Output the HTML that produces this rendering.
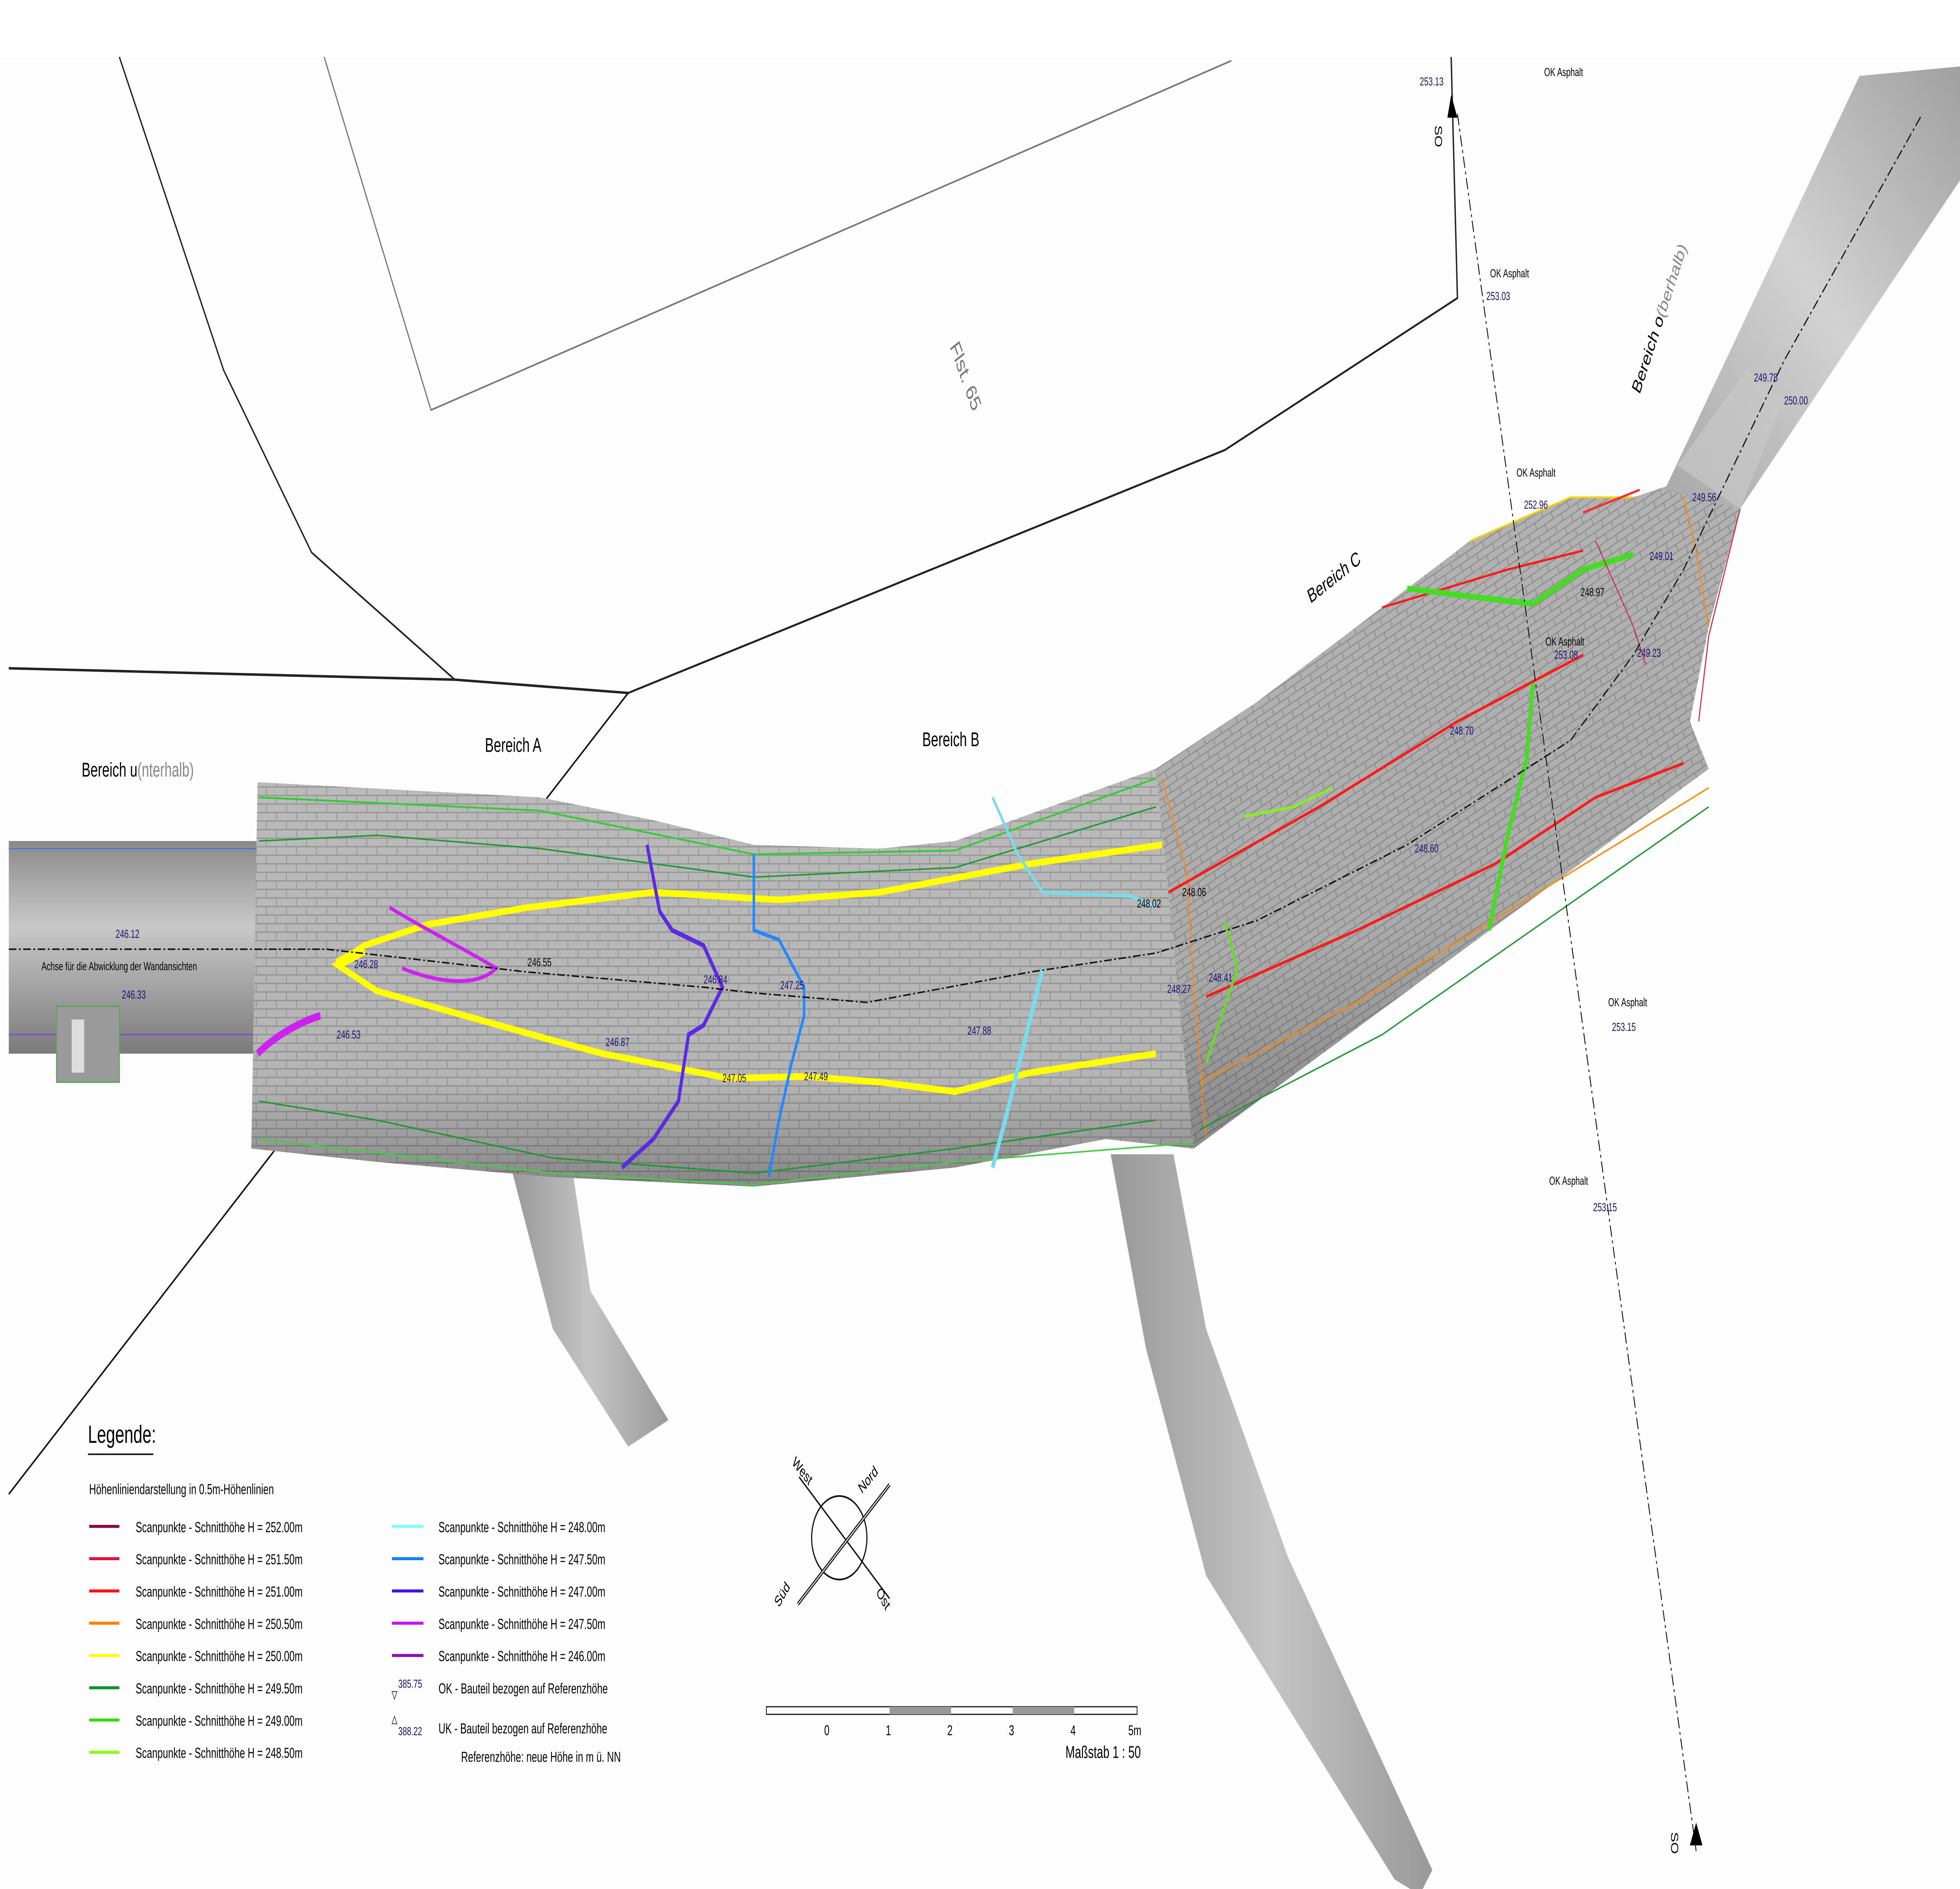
<!DOCTYPE html>
<html><head><meta charset="utf-8"><style>
html,body{margin:0;padding:0;background:#fff;overflow:hidden;width:100vw;height:100vh}
svg{display:block;width:100vw;height:100vh;position:absolute;left:0;top:0}
text{font-family:"Liberation Sans",sans-serif}
.n{fill:#1f0f70;font-size:6.2px}
.k{fill:#000;font-size:6.2px}
.lg{fill:#000;font-size:7.6px}
</style></head><body>
<svg viewBox="0 0 1560 995" preserveAspectRatio="none" xmlns="http://www.w3.org/2000/svg">
<defs>
<pattern id="br" width="16" height="9" patternUnits="userSpaceOnUse">
<rect width="16" height="9" fill="#bababa"/>
<path d="M0 0.5H16M0 5H16M4 0.5V5M12 5V9" stroke="#979797" stroke-width="0.7" fill="none"/>
</pattern>
<pattern id="br2" width="14" height="8" patternUnits="userSpaceOnUse" patternTransform="rotate(-24)">
<rect width="14" height="8" fill="#b3b3b3"/>
<path d="M0 0.5H14M0 4.5H14M3 0.5V4.5M10 4.5V8" stroke="#909090" stroke-width="0.7" fill="none"/>
</pattern>
<linearGradient id="pipe" x1="0" y1="0" x2="0" y2="1">
<stop offset="0" stop-color="#8a8a8a"/><stop offset="0.4" stop-color="#c8c8c8"/><stop offset="1" stop-color="#7a7a7a"/>
</linearGradient>
<linearGradient id="shade" x1="0" y1="0" x2="0" y2="1">
<stop offset="0" stop-color="#000" stop-opacity="0"/><stop offset="0.75" stop-color="#000" stop-opacity="0.03"/><stop offset="1" stop-color="#000" stop-opacity="0.28"/>
</linearGradient>
<linearGradient id="shadeC" x1="0.3" y1="0" x2="0.5" y2="1">
<stop offset="0" stop-color="#000" stop-opacity="0"/><stop offset="0.65" stop-color="#000" stop-opacity="0.04"/><stop offset="1" stop-color="#000" stop-opacity="0.3"/>
</linearGradient>
<linearGradient id="strip" x1="0" y1="1" x2="1" y2="0">
<stop offset="0" stop-color="#a8a8a8"/><stop offset="0.5" stop-color="#d2d2d2"/><stop offset="1" stop-color="#a0a0a0"/>
</linearGradient>
<linearGradient id="leg" x1="0" y1="0" x2="1" y2="0">
<stop offset="0" stop-color="#999"/><stop offset="0.5" stop-color="#c4c4c4"/><stop offset="1" stop-color="#999"/>
</linearGradient>
</defs>
<rect width="1560" height="995" fill="#fdfdfd"/>
<rect x="0" y="0" width="1560" height="30" fill="#fff"/>

<polyline points="95,30 178,195 248,291 362,358" fill="none" stroke="#222" stroke-width="1"/>
<polyline points="7,352 362,358 500,365" fill="none" stroke="#222" stroke-width="1.3"/>
<polyline points="258,30 343,216 980,32" fill="none" stroke="#777" stroke-width="0.9"/>
<polyline points="1155,30 1160,157 975,237 500,365" fill="none" stroke="#222" stroke-width="1.1"/>
<line x1="500" y1="365" x2="7" y2="787" stroke="#111" stroke-width="1"/>
<text x="765" y="200" font-size="12" fill="#777" transform="rotate(62 765 200)" text-anchor="middle">Flst. 65</text>

<rect x="7" y="443" width="200" height="112" fill="url(#pipe)"/>
<line x1="7" y1="447" x2="205" y2="447" stroke="#3a7adf" stroke-width="0.6"/>
<line x1="7" y1="545" x2="205" y2="545" stroke="#7a40e0" stroke-width="0.6"/>
<rect x="45" y="530" width="50" height="40" fill="#9a9a9a" stroke="#5a5" stroke-width="0.8"/>
<rect x="57" y="537" width="10" height="28" fill="#ddd"/>

<polygon points="408,618 456,618 470,680 532,748 500,762 440,700" fill="url(#leg)"/>
<polygon points="884,608 934,608 960,700 1025,820 1140,985 1130,998 1110,990 960,830 912,710" fill="url(#leg)"/>

<path d="M205,412 L430,420 L520,432 L600,445 L700,447 L760,443 L920,405 L950,605 L880,600 L760,615 L600,625 L440,620 L300,612 L200,605 Z" fill="url(#br)"/>
<path d="M205,412 L430,420 L520,432 L600,445 L700,447 L760,443 L920,405 L950,605 L880,600 L760,615 L600,625 L440,620 L300,612 L200,605 Z" fill="url(#shade)"/>
<path d="M920,405 L1000,370 L1100,320 L1170,285 L1250,262 L1300,262 L1345,252 L1385,268 L1360,330 L1345,380 L1360,405 L950,605 Z" fill="url(#br2)"/>
<path d="M920,405 L1000,370 L1100,320 L1170,285 L1250,262 L1300,262 L1345,252 L1385,268 L1360,330 L1345,380 L1360,405 L950,605 Z" fill="url(#shadeC)"/>
<polygon points="1325,258 1480,40 1560,35 1560,95 1385,268" fill="url(#strip)"/>
<polygon points="1335,245 1390,195 1420,210 1385,268" fill="#c8c8c8" opacity="0.7"/>

<path d="M206,420 L430,427 L600,450 L760,448 L920,410" fill="none" stroke="#33cc33" stroke-width="1"/>
<path d="M206,443 L300,440 L430,447 L600,462 L760,457 L920,425" fill="none" stroke="#1a9a30" stroke-width="0.8"/>
<path d="M206,580 L300,590 L440,610 L600,618 L760,605 L920,590" fill="none" stroke="#1a9a30" stroke-width="0.8"/>
<path d="M206,600 L440,618 L600,624 L760,612 L950,602" fill="none" stroke="#44cc44" stroke-width="0.8"/>
<path d="M920,555 L820,565 L760,575 L700,570 L640,567 L580,568 L480,555 L440,548 L300,522 L268,508 L290,498 L340,487 L420,478 L520,470 L620,474 L700,470 L820,455 L925,445" fill="none" stroke="#ffff00" stroke-width="3.5"/>
<path d="M268,508 L290,500" stroke="#ffff00" stroke-width="6"/>
<path d="M310,478 C340,490 370,500 395,510 C380,520 350,518 320,510" fill="none" stroke="#cc22ee" stroke-width="2"/>
<path d="M205,555 C220,545 240,538 255,535" fill="none" stroke="#cc22ee" stroke-width="4"/>
<path d="M515,445 L525,480 L535,490 L560,498 L575,520 L560,540 L548,545 L540,580 L520,600 L495,615" fill="none" stroke="#5a2be0" stroke-width="2.5"/>
<path d="M600,450 L600,490 L620,495 L640,520 L640,535 L630,560 L620,590 L612,620" fill="none" stroke="#2288ff" stroke-width="2"/>
<path d="M790,420 L810,450 L830,470 L900,472 L920,478" fill="none" stroke="#77ddee" stroke-width="1.8"/>
<path d="M830,510 L815,550 L800,590 L790,615" fill="none" stroke="#77ddee" stroke-width="3"/>
<path d="M925,410 L945,460 L950,520 L960,600" fill="none" stroke="#ff8800" stroke-width="0.8"/>
<path d="M930,470 L1050,425 L1160,380 L1260,345" fill="none" stroke="#ff1a1a" stroke-width="1.5"/>
<path d="M1100,320 L1200,300 L1260,290" fill="none" stroke="#ff1a1a" stroke-width="1.2"/>
<path d="M960,525 L1080,490 L1190,455 L1270,420 L1340,402" fill="none" stroke="#ff1a1a" stroke-width="1.5"/>
<path d="M955,570 L1080,528 L1200,480 L1360,415" fill="none" stroke="#ff8800" stroke-width="0.8"/>
<path d="M955,595 L1100,545 L1360,425" fill="none" stroke="#1a9a30" stroke-width="0.8"/>
<path d="M1120,310 L1180,315 L1220,318 L1260,300 L1300,292" fill="none" stroke="#44dd22" stroke-width="3"/>
<path d="M1220,360 L1215,400 L1200,440 L1185,490" fill="none" stroke="#44dd22" stroke-width="3"/>
<path d="M990,430 L1030,425 L1060,415" fill="none" stroke="#88ee22" stroke-width="1.5"/>
<path d="M975,485 L985,510 L960,560" fill="none" stroke="#66dd22" stroke-width="1.8"/>
<path d="M1170,285 L1250,262 L1300,262" fill="none" stroke="#f4d000" stroke-width="1"/>
<path d="M1260,270 L1305,258" stroke="#ff2a2a" stroke-width="1.2"/>
<path d="M1340,262 L1350,290 L1360,330" fill="none" stroke="#ff8800" stroke-width="0.8"/>
<path d="M1385,268 L1360,335 L1352,380" fill="none" stroke="#e02040" stroke-width="0.8"/>
<path d="M1270,285 L1300,330 L1310,350" fill="none" stroke="#cc2255" stroke-width="0.7"/>

<path d="M7,500 L260,500 L420,512 L560,520 L600,523 L690,528 L820,512 L920,502 L1000,485 L1120,445 L1250,390 L1300,345 L1340,300 L1420,190 L1530,60" fill="none" stroke="#111" stroke-width="0.8" stroke-dasharray="6,2,1.5,2"/>
<path d="M1160,60 L1350,975" fill="none" stroke="#111" stroke-width="0.7" stroke-dasharray="6,2,1.5,2"/>
<polygon points="1155,50 1160,62 1152,62" fill="#000"/>
<polygon points="1350,960 1355,972 1345,972" fill="#000"/>
<text x="1142" y="66" font-size="8" transform="rotate(90 1142 66)">SO</text>
<text x="1330" y="965" font-size="8" transform="rotate(90 1330 965)">SO</text>

<text x="65" y="409" font-size="10.5">Bereich u<tspan fill="#888">(nterhalb)</tspan></text>
<text x="386" y="396" font-size="10.5">Bereich A</text>
<text x="734" y="393" font-size="10.5">Bereich B</text>
<text x="1043" y="318" font-size="10.5" transform="rotate(-28 1043 318)">Bereich C</text>
<text x="1305" y="208" font-size="10.5" transform="rotate(-64 1305 208)">Bereich o<tspan fill="#888">(berhalb)</tspan></text>
<text x="33" y="511" class="k">Achse für die Abwicklung der Wandansichten</text>
<text x="92" y="494" class="n">246.12</text>
<text x="97" y="526" class="n">246.33</text>
<text x="282" y="510" class="n">246.28</text>
<text x="420" y="509" class="k">246.55</text>
<text x="268" y="547" class="n">246.53</text>
<text x="560" y="518" class="n">246.84</text>
<text x="621" y="521" class="n">247.25</text>
<text x="482" y="551" class="n">246.87</text>
<text x="575" y="570" class="n">247.05</text>
<text x="640" y="569" class="n">247.49</text>
<text x="770" y="545" class="n">247.88</text>
<text x="905" y="478" class="k">248.02</text>
<text x="941" y="472" class="k">248.06</text>
<text x="929" y="523" class="n">248.27</text>
<text x="962" y="517" class="n">248.41</text>
<text x="1126" y="449" class="n">248.60</text>
<text x="1154" y="387" class="n">248.70</text>
<text x="1258" y="314" class="k">248.97</text>
<text x="1313" y="295" class="n">249.01</text>
<text x="1303" y="346" class="n">249.23</text>
<text x="1347" y="264" class="n">249.56</text>
<text x="1396" y="201" class="n">249.78</text>
<text x="1420" y="213" class="n">250.00</text>
<text x="1130" y="45" class="n">253.13</text>
<text x="1229" y="40" class="k">OK Asphalt</text>
<text x="1186" y="146" class="k">OK Asphalt</text>
<text x="1183" y="158" class="n">253.03</text>
<text x="1207" y="251" class="k">OK Asphalt</text>
<text x="1213" y="268" class="n">252.96</text>
<text x="1230" y="340" class="k">OK Asphalt</text>
<text x="1237" y="347" class="n">253.08</text>
<text x="1280" y="530" class="k">OK Asphalt</text>
<text x="1283" y="543" class="n">253.15</text>
<text x="1233" y="624" class="k">OK Asphalt</text>
<text x="1268" y="638" class="n">253.15</text>

<circle cx="668" cy="810" r="22" fill="none" stroke="#111" stroke-width="0.9"/>
<line x1="636" y1="778" x2="708" y2="842" stroke="#111" stroke-width="0.9"/>
<line x1="635" y1="845" x2="708" y2="782" stroke="#111" stroke-width="2"/>
<line x1="635" y1="845" x2="708" y2="782" stroke="#fff" stroke-width="0.6"/>
<text x="630" y="771" font-size="8" transform="rotate(40 630 771)">West</text>
<text x="686" y="787" font-size="8" transform="rotate(-40 686 787)">Nord</text>
<text x="620" y="847" font-size="8" transform="rotate(-50 620 847)">Süd</text>
<text x="697" y="839" font-size="8" transform="rotate(50 697 839)">Ost</text>

<rect x="610" y="899" width="295" height="4" fill="#fff" stroke="#111" stroke-width="0.6"/>
<rect x="708" y="899" width="49" height="4" fill="#999"/>
<rect x="806" y="899" width="49" height="4" fill="#999"/>
<text x="656" y="914" font-size="7.5">0</text>
<text x="705" y="914" font-size="7.5">1</text>
<text x="754" y="914" font-size="7.5">2</text>
<text x="803" y="914" font-size="7.5">3</text>
<text x="852" y="914" font-size="7.5">4</text>
<text x="898" y="914" font-size="7.5">5m</text>
<text x="848" y="926" font-size="9">Maßstab 1 : 50</text>

<text x="70" y="760" font-size="13">Legende:</text>
<line x1="70" y1="766" x2="122" y2="766" stroke="#111" stroke-width="0.8"/>
<text x="71" y="787" class="lg">Höhenliniendarstellung in  0.5m-Höhenlinien</text>
<g stroke-width="1.6">
<line x1="71" y1="804" x2="95" y2="804" stroke="#8b0a4a"/>
<line x1="71" y1="821" x2="95" y2="821" stroke="#dd1040"/>
<line x1="71" y1="838" x2="95" y2="838" stroke="#ff1010"/>
<line x1="71" y1="855" x2="95" y2="855" stroke="#ff8000"/>
<line x1="71" y1="872" x2="95" y2="872" stroke="#ffff00"/>
<line x1="71" y1="889" x2="95" y2="889" stroke="#109030"/>
<line x1="71" y1="906" x2="95" y2="906" stroke="#33dd10"/>
<line x1="71" y1="923" x2="95" y2="923" stroke="#88ff10"/>
<line x1="312" y1="804" x2="337" y2="804" stroke="#80ffff"/>
<line x1="312" y1="821" x2="337" y2="821" stroke="#1080ff"/>
<line x1="312" y1="838" x2="337" y2="838" stroke="#3a10ff"/>
<line x1="312" y1="855" x2="337" y2="855" stroke="#cc10ff"/>
<line x1="312" y1="872" x2="337" y2="872" stroke="#8a10c0"/>
</g>
<text x="108" y="807" class="lg">Scanpunkte - Schnitthöhe H = 252.00m</text>
<text x="108" y="824" class="lg">Scanpunkte - Schnitthöhe H = 251.50m</text>
<text x="108" y="841" class="lg">Scanpunkte - Schnitthöhe H = 251.00m</text>
<text x="108" y="858" class="lg">Scanpunkte - Schnitthöhe H = 250.50m</text>
<text x="108" y="875" class="lg">Scanpunkte - Schnitthöhe H = 250.00m</text>
<text x="108" y="892" class="lg">Scanpunkte - Schnitthöhe H = 249.50m</text>
<text x="108" y="909" class="lg">Scanpunkte - Schnitthöhe H = 249.00m</text>
<text x="108" y="926" class="lg">Scanpunkte - Schnitthöhe H = 248.50m</text>
<text x="349" y="807" class="lg">Scanpunkte - Schnitthöhe H = 248.00m</text>
<text x="349" y="824" class="lg">Scanpunkte - Schnitthöhe H = 247.50m</text>
<text x="349" y="841" class="lg">Scanpunkte - Schnitthöhe H = 247.00m</text>
<text x="349" y="858" class="lg">Scanpunkte - Schnitthöhe H = 247.50m</text>
<text x="349" y="875" class="lg">Scanpunkte - Schnitthöhe H = 246.00m</text>
<text x="317" y="889" class="n">385.75</text>
<polygon points="312,891 316,891 314,895" fill="none" stroke="#1f0f70" stroke-width="0.4"/>
<text x="349" y="892" class="lg">OK - Bauteil bezogen auf Referenzhöhe</text>
<polygon points="312,908 316,908 314,904" fill="none" stroke="#1f0f70" stroke-width="0.4"/>
<text x="317" y="914" class="n">388.22</text>
<text x="349" y="913" class="lg">UK - Bauteil bezogen auf Referenzhöhe</text>
<text x="367" y="928" class="lg">Referenzhöhe: neue Höhe in m ü. NN</text>
</svg>
</body></html>
